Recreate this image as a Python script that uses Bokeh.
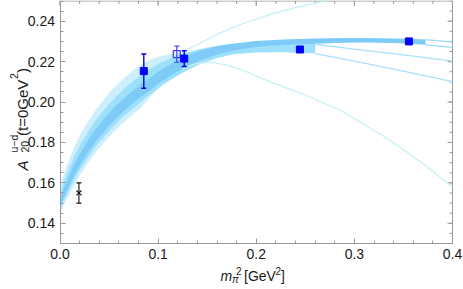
from math import pi
from bokeh.plotting import figure
from bokeh.models import Range1d, LinearAxis, FixedTicker, PrintfTickFormatter, Label
from bokeh.embed import file_html
from bokeh.resources import INLINE

# ---------------- data ----------------
# lattice points (filled squares)
pt_x = [0.0854, 0.1266, 0.2445, 0.3556]
pt_y = [0.2153, 0.2215, 0.2260, 0.2300]
pt_err = [0.0085, 0.0039, 0.0012, 0.0006]
# open square
open_x = [0.1190]
open_y = [0.2237]
open_err = [0.0040]
# physical point (cross)
phys_x = [0.0193]
phys_y = [0.1550]
phys_err = [0.0050]

# lightest band (shortest fit range)
outer_x = [0.0, 0.002, 0.005, 0.01, 0.0158, 0.022, 0.0294, 0.037, 0.0464, 0.055, 0.0634, 0.072, 0.0821, 0.092, 0.100, 0.112, 0.125]
outer_hi = [0.1565, 0.1612, 0.1660, 0.1725, 0.1790, 0.1850, 0.1910, 0.1965, 0.2024, 0.2072, 0.2110, 0.2148, 0.2185, 0.2210, 0.2224, 0.2236, 0.2250]
outer_lo = [0.1445, 0.1468, 0.1500, 0.1548, 0.1600, 0.1650, 0.1705, 0.1755, 0.1808, 0.1853, 0.1893, 0.1930, 0.1970, 0.2025, 0.2063, 0.2118, 0.2163]
# continuation of its edges
outer_up_x = [0.125, 0.135, 0.143, 0.160, 0.177, 0.194, 0.215, 0.240, 0.262, 0.280]
outer_up_y = [0.2250, 0.2272, 0.2291, 0.2335, 0.2370, 0.2401, 0.2435, 0.2467, 0.2492, 0.2510]
outer_dn_x = [0.125, 0.135, 0.143, 0.155, 0.170, 0.190, 0.211, 0.250, 0.286, 0.301, 0.337, 0.370, 0.400]
outer_dn_y = [0.2163, 0.2185, 0.2194, 0.2196, 0.2183, 0.2150, 0.2106, 0.2035, 0.1958, 0.1915, 0.1810, 0.1695, 0.1580]

# middle band
mid_x = [0.0, 0.002, 0.005, 0.01, 0.0158, 0.022, 0.0294, 0.037, 0.0464, 0.055, 0.0634, 0.072, 0.0821,
         0.092, 0.100, 0.112, 0.125, 0.143, 0.160, 0.177, 0.200, 0.228, 0.260]
mid_hi = [0.1535, 0.1576, 0.1620, 0.1681, 0.1743, 0.1800, 0.1859, 0.1913, 0.1970, 0.2017, 0.2056, 0.2094, 0.2131,
          0.2165, 0.2188, 0.2215, 0.2240, 0.2262, 0.2278, 0.2288, 0.2294, 0.2296, 0.2293]
mid_lo = [0.1461, 0.1488, 0.1522, 0.1572, 0.1626, 0.1677, 0.1733, 0.1784, 0.1837, 0.1883, 0.1923, 0.1960, 0.1999,
          0.2038, 0.2068, 0.2108, 0.2145, 0.2188, 0.2218, 0.2236, 0.2245, 0.2247, 0.2240]
mid_up_x = [0.260, 0.300, 0.350, 0.400]
mid_up_y = [0.2286, 0.2262, 0.2233, 0.2202]
mid_dn_x = [0.260, 0.300, 0.350, 0.400]
mid_dn_y = [0.2240, 0.2202, 0.2153, 0.2101]

# darkest band (longest fit range)
dark_x = [0.0, 0.002, 0.005, 0.01, 0.0158, 0.022, 0.0294, 0.037, 0.0464, 0.055, 0.0634, 0.072, 0.0821,
          0.092, 0.100, 0.112, 0.125, 0.143, 0.160, 0.177, 0.200, 0.228, 0.260, 0.290, 0.313, 0.340, 0.355, 0.3725]
dark_hi = [0.1510, 0.1547, 0.1587, 0.1645, 0.1704, 0.1759, 0.1817, 0.1870, 0.1926, 0.1972, 0.2011, 0.2049, 0.2087,
           0.2122, 0.2150, 0.2185, 0.2218, 0.2255, 0.2276, 0.2290, 0.2302, 0.2310, 0.2315, 0.2317, 0.2317, 0.2315, 0.2313, 0.2309]
dark_lo = [0.1475, 0.1504, 0.1540, 0.1592, 0.1648, 0.1700, 0.1756, 0.1808, 0.1862, 0.1908, 0.1947, 0.1985, 0.2024,
           0.2058, 0.2090, 0.2128, 0.2165, 0.2205, 0.2235, 0.2255, 0.2272, 0.2284, 0.2289, 0.2294, 0.2295, 0.2292, 0.2288, 0.2283]
dark_up_x = [0.3725, 0.400]
dark_up_y = [0.2309, 0.2296]
dark_dn_x = [0.3725, 0.400]
dark_dn_y = [0.2283, 0.2271]

x_major = [0.0, 0.1, 0.2, 0.3, 0.4]
x_minor = [round(i * 0.02, 4) for i in range(21)]
y_major = [0.14, 0.16, 0.18, 0.20, 0.22, 0.24]
y_minor = [round(0.13 + i * 0.005, 4) for i in range(25)]
X_LO, X_HI = 0.0, 0.4
Y_LO, Y_HI = 0.13, 0.25

# ---------------- geometry (pixels of the 463x289 page) ----------------
W, H = 463, 289
FX0, FX1 = 59.5, 452.0      # frame left/right
FY0, FY1 = 0.5, 243.0       # frame top/bottom
SX = (FX1 - FX0) / (X_HI - X_LO)
SY = (FY1 - FY0) / (Y_HI - Y_LO)

def px2x(px):
    return X_LO + (px - FX0) / SX

def py2y(py):
    return Y_HI - (py - FY0) / SY

FONT = "Liberation Sans"
GRAY = "#9a9a9a"
TXT = "#1a1a1a"

p = figure(width=W, height=H, x_range=Range1d(px2x(0), px2x(W)), y_range=Range1d(py2y(H), py2y(0)),
           output_backend="svg", toolbar_location=None,
           min_border_left=0, min_border_right=0, min_border_top=0, min_border_bottom=0,
           x_axis_location=None, y_axis_location=None)
p.background_fill_color = "white"
p.border_fill_color = "white"
p.outline_line_color = None
p.xgrid.visible = False
p.ygrid.visible = False

def style_axis(ax, ticks, minor, fmt, loc, bounds):
    ax.fixed_location = loc
    ax.bounds = bounds
    ax.ticker = FixedTicker(ticks=ticks, minor_ticks=minor)
    ax.formatter = PrintfTickFormatter(format=fmt)
    ax.axis_line_color = GRAY
    ax.major_tick_line_color = GRAY
    ax.minor_tick_line_color = GRAY
    ax.major_tick_in = 5
    ax.major_tick_out = 0
    ax.minor_tick_in = 3
    ax.minor_tick_out = 0
    ax.major_label_text_font = FONT
    ax.major_label_text_color = TXT
    ax.major_label_text_font_size = "14px"
    ax.major_label_standoff = 5

xax = LinearAxis()
yax = LinearAxis()
style_axis(xax, x_major, x_minor, "%.1f", Y_LO, (X_LO, X_HI))
style_axis(yax, y_major, y_minor, "%.2f", X_LO, (Y_LO, Y_HI))
p.add_layout(xax, "below")
p.add_layout(yax, "left")

# top and right frame edges with inward ticks
p.segment(x0=[X_LO, X_HI], y0=[Y_HI, Y_LO], x1=[X_HI, X_HI], y1=[Y_HI, Y_HI], line_color=GRAY, line_width=1)
p.segment(x0=x_major, y0=[Y_HI] * len(x_major), x1=x_major, y1=[Y_HI - 5 / SY] * len(x_major),
          line_color=GRAY, line_width=1)
p.segment(x0=x_minor, y0=[Y_HI] * len(x_minor), x1=x_minor, y1=[Y_HI - 3 / SY] * len(x_minor),
          line_color=GRAY, line_width=1)
p.segment(x0=[X_HI] * len(y_major), y0=y_major, x1=[X_HI - 5 / SX] * len(y_major), y1=y_major,
          line_color=GRAY, line_width=1)
p.segment(x0=[X_HI] * len(y_minor), y0=y_minor, x1=[X_HI - 3 / SX] * len(y_minor), y1=y_minor,
          line_color=GRAY, line_width=1)

# bands
p.varea(x=outer_x, y1=outer_lo, y2=outer_hi, fill_color="#cdeffc")
p.varea(x=mid_x, y1=mid_lo, y2=mid_hi, fill_color="#9de0fb")
p.varea(x=dark_x, y1=dark_lo, y2=dark_hi, fill_color="#7ecbf8")

# continuation lines
p.line(outer_up_x, outer_up_y, line_color="#c6eef9", line_width=1.2)
p.line(outer_dn_x, outer_dn_y, line_color="#c6eef9", line_width=1.2)
p.line(mid_up_x, mid_up_y, line_color="#a6e2f9", line_width=1.3)
p.line(mid_dn_x, mid_dn_y, line_color="#a6e2f9", line_width=1.3)
p.line(dark_up_x, dark_up_y, line_color="#9fd8f8", line_width=1.3)
p.line(dark_dn_x, dark_dn_y, line_color="#9fd8f8", line_width=1.3)

# error bars and points
def errbars(xs, ys, es, color, width=1.3):
    lo = [y - e for y, e in zip(ys, es)]
    hi = [y + e for y, e in zip(ys, es)]
    p.segment(x0=xs, y0=lo, x1=xs, y1=hi, line_color=color, line_width=width)
    p.scatter(x=xs, y=lo, marker="dash", size=5, line_color=color, line_width=width)
    p.scatter(x=xs, y=hi, marker="dash", size=5, line_color=color, line_width=width)

errbars(phys_x, phys_y, phys_err, "#111111", 1.1)
p.scatter(x=phys_x, y=phys_y, marker="x", size=7, line_color="#111111", line_width=1.1)

errbars(open_x, open_y, open_err, "#4444ff", 1.2)
p.scatter(x=open_x, y=open_y, marker="square", size=7, fill_color=None,
          line_color="#3a3aff", line_width=1.2)

errbars(pt_x, pt_y, pt_err, "#0000f0", 1.4)
p.scatter(x=pt_x, y=pt_y, marker="square", size=7, fill_color="#0000ff", line_color="#0000ff")

# ---------------- axis titles as rich text ----------------
def lab(text, px, py, size, angle=0.0, italic=False):
    p.add_layout(Label(x=px2x(px), y=py2y(py), text=text, angle=angle,
                       text_font=FONT, text_font_size=size, text_color=TXT,
                       text_font_style="italic" if italic else "normal",
                       text_align="left", text_baseline="alphabetic"))

# y title (rotated, reads upwards)
lab("A", 21.5, 170, "15px", angle=pi / 2, italic=True)
lab("20", 24.5, 152, "10.5px", angle=pi / 2)
lab("u\u2212d", 13.5, 152, "10.5px", angle=pi / 2)
lab("(t=0GeV", 21.5, 135.5, "15px", angle=pi / 2)
lab("2", 13.5, 78.5, "10.5px", angle=pi / 2)
lab(")", 21.5, 72.5, "15px", angle=pi / 2)

# x title
lab("m", 220, 275, "14px", italic=True)
lab("\u03c0", 231.5, 278.5, "10px", italic=True)
lab("2", 235.5, 270.5, "10px")
lab("[GeV", 243.5, 275, "14px")
lab("2", 275, 270, "10px")
lab("]", 280.5, 275, "14px")

open("out.html", "w").write(file_html(p, INLINE))
